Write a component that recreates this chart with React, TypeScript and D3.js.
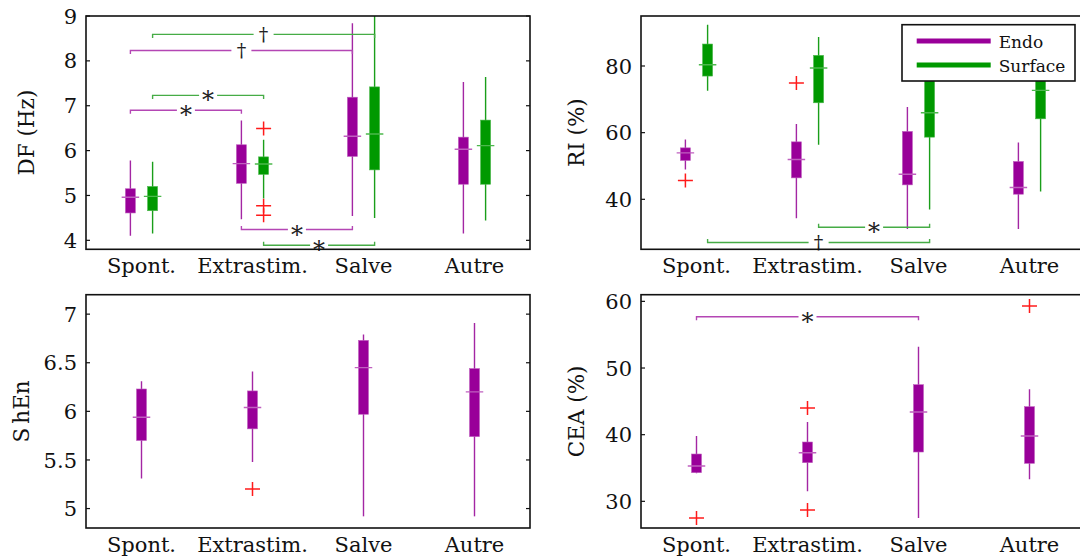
import React from "react";
import * as d3 from "d3";

const categories = ["Spont.", "Extrastim.", "Salve", "Autre"];

// Box stats: [lower whisker, q1, median, q3, upper whisker]
const dfEndo = [
  [4.1, 4.61, 4.96, 5.15, 5.78],
  [4.47, 5.27, 5.71, 6.13, 6.67],
  [4.54, 5.87, 6.32, 7.19, 8.84],
  [4.15, 5.25, 6.03, 6.3, 7.53],
];
const dfSurface = [
  [4.15, 4.66, 4.98, 5.2, 5.75],
  [4.93, 5.47, 5.7, 5.86, 6.24],
  [4.5, 5.57, 6.37, 7.42, 9.3],
  [4.44, 5.25, 6.11, 6.68, 7.64],
];
const dfSurfaceOutliers = [
  { cat: 1, v: 6.49 },
  { cat: 1, v: 4.77 },
  { cat: 1, v: 4.56 },
];
const dfTicks = [4, 5, 6, 7, 8, 9];
const dfBrackets = [
  { from: 0, to: 2, series: 1, v: 8.59, label: "†", dir: 1 },
  { from: 0, to: 2, series: 0, v: 8.23, label: "†", dir: 1 },
  { from: 0, to: 1, series: 1, v: 7.23, label: "*", dir: 1 },
  { from: 0, to: 1, series: 0, v: 6.9, label: "*", dir: 1 },
  { from: 1, to: 2, series: 0, v: 4.24, label: "*", dir: -1 },
  { from: 1, to: 2, series: 1, v: 3.89, label: "*", dir: -1 },
];

const riEndo = [
  [48.95, 51.65, 53.94, 55.44, 57.96],
  [34.32, 46.43, 51.95, 57.24, 62.56],
  [31.11, 44.33, 47.54, 60.37, 67.66],
  [31.11, 41.53, 43.54, 51.35, 57.06],
];
const riSurface = [
  [72.56, 76.98, 80.37, 86.59, 92.39],
  [56.34, 68.96, 79.38, 83.19, 88.69],
  [36.93, 58.65, 65.95, 79.0, 90.0],
  [42.34, 64.15, 72.68, 81.0, 91.0],
];
const riEndoOutliers = [
  { cat: 0, v: 45.65 },
  { cat: 1, v: 74.87 },
];
const riTicks = [40, 60, 80];
const riBrackets = [
  { from: 1, to: 2, series: 1, v: 31.62, label: "*", dir: -1 },
  { from: 0, to: 2, series: 1, v: 27.02, label: "†", dir: -1 },
];

const shenEndo = [
  [5.31, 5.7, 5.94, 6.23, 6.31],
  [5.48, 5.82, 6.04, 6.21, 6.41],
  [4.92, 5.97, 6.45, 6.73, 6.79],
  [4.92, 5.74, 6.2, 6.44, 6.91],
];
const shenOutliers = [{ cat: 1, v: 5.2 }];
const shenTicks = [5, 5.5, 6, 6.5, 7];

const ceaEndo = [
  [34.2, 34.3, 35.3, 37.1, 39.8],
  [31.5, 35.8, 37.3, 38.9, 41.9],
  [27.5, 37.4, 43.4, 47.5, 53.2],
  [33.3, 35.7, 39.8, 44.2, 46.8],
];
const ceaOutliers = [
  { cat: 0, v: 27.5 },
  { cat: 1, v: 44.0 },
  { cat: 1, v: 28.7 },
  { cat: 3, v: 59.3 },
];
const ceaTicks = [30, 40, 50, 60];
const ceaBrackets = [{ from: 0, to: 2, series: 0, v: 57.7, label: "*", dir: 1 }];

const legendLabels = ["Endo", "Surface"];

const FONT = "DejaVu Serif";
const PURPLE = "#990099";
const GREEN = "#009900";
const PURPLE_LINE = "#a326a3";
const GREEN_LINE = "#1a9e1a";
const PURPLE_BR = "#b446b4";
const GREEN_BR = "#46ac46";
const PURPLE_MED = "#bf5fbf";
const GREEN_MED = "#4cb84c";

type Box = number[];
type Outlier = { cat: number; v: number };
type Series = { stats: Box[]; fill: string; line: string; med: string; br: string; offset: number; outliers: Outlier[] };
type Bracket = { from: number; to: number; series: number; v: number; label: string; dir: number };

type PanelDef = {
  id: string;
  left: number;
  top: number;
  width: number;
  height: number;
  domain: [number, number];
  ticks: number[];
  ylabel: string;
  ylabelX: number;
  series: Series[];
  brackets: Bracket[];
};

const endo = (stats: Box[], outliers: Outlier[], offset: number): Series => ({
  stats,
  fill: PURPLE,
  line: PURPLE_LINE,
  med: PURPLE_MED,
  br: PURPLE_BR,
  offset,
  outliers,
});
const surf = (stats: Box[], outliers: Outlier[], offset: number): Series => ({
  stats,
  fill: GREEN,
  line: GREEN_LINE,
  med: GREEN_MED,
  br: GREEN_BR,
  offset,
  outliers,
});

const panels: PanelDef[] = [
  {
    id: "df",
    left: 86,
    top: 16,
    width: 444,
    height: 233.3,
    domain: [3.8, 9],
    ticks: dfTicks,
    ylabel: "DF (Hz)",
    ylabelX: 34,
    series: [endo(dfEndo, [], -0.1), surf(dfSurface, dfSurfaceOutliers, 0.1)],
    brackets: dfBrackets,
  },
  {
    id: "ri",
    left: 641,
    top: 16,
    width: 444,
    height: 233.3,
    domain: [25, 95],
    ticks: riTicks,
    ylabel: "RI (%)",
    ylabelX: 584,
    series: [endo(riEndo, riEndoOutliers, -0.1), surf(riSurface, [], 0.1)],
    brackets: riBrackets,
  },
  {
    id: "shen",
    left: 86,
    top: 294.7,
    width: 444,
    height: 233.3,
    domain: [4.8, 7.2],
    ticks: shenTicks,
    ylabel: "ShEn",
    ylabelX: 28.5,
    series: [endo(shenEndo, shenOutliers, 0)],
    brackets: [],
  },
  {
    id: "cea",
    left: 641,
    top: 294.7,
    width: 444,
    height: 233.3,
    domain: [26, 61],
    ticks: ceaTicks,
    ylabel: "CEA (%)",
    ylabelX: 584,
    series: [endo(ceaEndo, ceaOutliers, 0)],
    brackets: ceaBrackets,
  },
];

function Panel({ p }: { p: PanelDef }) {
  const x = d3.scaleLinear().domain([0.5, 4.5]).range([p.left, p.left + p.width]);
  const y = d3.scaleLinear().domain(p.domain).range([p.top + p.height, p.top]);
  const boxW = 10;
  const medW = 17.5;
  const clipId = `clip-${p.id}`;
  const right = p.left + p.width;
  const bottom = p.top + p.height;
  const cy = p.top + p.height / 2;
  return (
    <g>
      <defs>
        <clipPath id={clipId}>
          <rect x={p.left} y={p.top} width={p.width} height={p.height} />
        </clipPath>
      </defs>
      <g clipPath={`url(#${clipId})`}>
        {p.series.map((s, si) =>
          s.stats.map((b, ci) => {
            const cx = x(ci + 1 + s.offset);
            return (
              <g key={`${si}-${ci}`}>
                <line x1={cx} x2={cx} y1={y(b[0])} y2={y(b[4])} stroke={s.line} strokeWidth={1.4} />
                <rect
                  x={cx - boxW / 2}
                  y={y(b[3])}
                  width={boxW}
                  height={y(b[1]) - y(b[3])}
                  fill={s.fill}
                  stroke={s.med}
                  strokeWidth={0.6}
                />
                <line x1={cx - medW / 2} x2={cx + medW / 2} y1={y(b[2])} y2={y(b[2])} stroke={s.med} strokeWidth={1.4} />
              </g>
            );
          })
        )}
        {p.series.map((s, si) =>
          s.outliers.map((o, oi) => {
            const cx = x(o.cat + 1 + s.offset);
            const yy = y(o.v);
            return (
              <g key={`o-${si}-${oi}`} stroke="#ff1a1a" strokeWidth={1.5}>
                <line x1={cx - 7.5} x2={cx + 7.5} y1={yy} y2={yy} />
                <line x1={cx} x2={cx} y1={yy - 7} y2={yy + 7} />
              </g>
            );
          })
        )}
        {p.brackets.map((br, bi) => {
          const s = p.series[br.series];
          const x1 = x(br.from + 1 + s.offset);
          const x2 = x(br.to + 1 + s.offset);
          const yy = y(br.v);
          const mid = (x1 + x2) / 2;
          const gap = br.label === "*" ? 9 : 10;
          const tick = 3.5 * br.dir;
          return (
            <path
              key={`b-${bi}`}
              d={`M${x1},${yy + tick}V${yy}H${mid - gap}M${mid + gap},${yy}H${x2}V${yy + tick}`}
              fill="none"
              stroke={s.br}
              strokeWidth={1.4}
            />
          );
        })}
      </g>
      {p.brackets.map((br, bi) => {
        const s = p.series[br.series];
        const x1 = x(br.from + 1 + s.offset);
        const x2 = x(br.to + 1 + s.offset);
        const yy = y(br.v);
        const mid = (x1 + x2) / 2;
        const isStar = br.label === "*";
        return (
          <text
            key={`bl-${bi}`}
            x={mid}
            y={isStar ? yy + 13 : yy + 6.5}
            textAnchor="middle"
            fontFamily={FONT}
            fontSize={isStar ? 24 : 19}
            fill="#222"
          >
            {br.label}
          </text>
        );
      })}
      <rect x={p.left} y={p.top} width={p.width} height={p.height} fill="none" stroke="#111" strokeWidth={1.6} />
      {p.ticks.map((t) => (
        <g key={`t-${t}`}>
          <line x1={p.left} x2={p.left + 4} y1={y(t)} y2={y(t)} stroke="#111" strokeWidth={1.2} />
          <line x1={right - 4} x2={right} y1={y(t)} y2={y(t)} stroke="#111" strokeWidth={1.2} />
          <text
            x={p.left - 9}
            y={y(t)}
            dy="0.36em"
            textAnchor="end"
            fontFamily={FONT}
            fontSize={21}
            fill="#111"
          >
            {String(t)}
          </text>
        </g>
      ))}
      {categories.map((c, i) => (
        <text
          key={c}
          x={x(i + 1)}
          y={bottom + 24}
          textAnchor="middle"
          fontFamily={FONT}
          fontSize={21}
          fill="#111"
        >
          {c}
        </text>
      ))}
      <text
        transform={`translate(${p.ylabelX},${cy}) rotate(-90)`}
        textAnchor="middle"
        fontFamily={FONT}
        fontSize={21.5}
        fill="#111"
      >
        {p.ylabel === "ShEn" ? (
          <>
            <tspan>S</tspan>
            <tspan dx={4}>hEn</tspan>
          </>
        ) : (
          p.ylabel
        )}
      </text>
    </g>
  );
}

function Legend() {
  const lx = 902;
  const ly = 24.7;
  const colors = [PURPLE, GREEN];
  return (
    <g>
      <rect x={lx} y={ly} width={173} height={56.3} fill="#fff" stroke="#111" strokeWidth={1.6} />
      {legendLabels.map((l, i) => (
        <g key={l}>
          <line x1={lx + 14.7} x2={lx + 88.7} y1={ly + 16.3 + i * 24} y2={ly + 16.3 + i * 24} stroke={colors[i]} strokeWidth={5} />
          <text x={lx + 96.7} y={ly + 23 + i * 24.6} fontFamily={FONT} fontSize={17} fill="#111">
            {l}
          </text>
        </g>
      ))}
    </g>
  );
}

export default function App() {
  return (
    <svg
      width={1080}
      height={558}
      viewBox="0 0 1080 558"
      style={{ position: "absolute", left: 0, top: 0, display: "block", background: "#fff" }}
    >
      <rect x={0} y={0} width={1080} height={558} fill="#fff" />
      {panels.map((p) => (
        <Panel key={p.id} p={p} />
      ))}
      <Legend />
    </svg>
  );
}
